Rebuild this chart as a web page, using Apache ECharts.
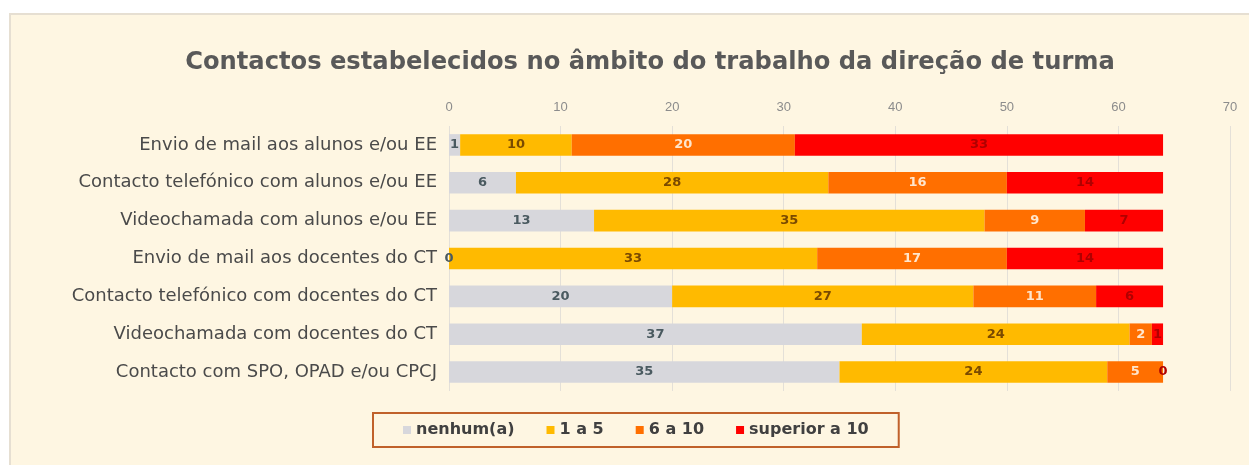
<!DOCTYPE html>
<html>
<head>
<meta charset="utf-8">
<script src="https://cdn.jsdelivr.net/npm/echarts@6/dist/echarts.min.js"></script>
<style>
html,body{margin:0;padding:0;background:#ffffff;width:1249px;height:465px;overflow:hidden;}
#wrap{position:absolute;left:9px;top:13px;width:1240px;height:452px;background:#FEF6E2;border-left:2px solid #E6DFD2;border-top:2px solid #E6DFD2;box-sizing:border-box;}
#chart{position:absolute;left:0;top:0;width:1238px;height:450px;}
</style>
</head>
<body>
<div id="wrap"><div id="chart"></div></div>
<script>
const categories = [
  "Envio de mail aos alunos e/ou EE",
  "Contacto telefónico com alunos e/ou EE",
  "Videochamada com alunos e/ou EE",
  "Envio de mail aos docentes do CT",
  "Contacto telefónico com docentes do CT",
  "Videochamada com docentes do CT",
  "Contacto com SPO, OPAD e/ou CPCJ"
];
const seriesNames = ["nenhum(a)", "1 a 5", "6 a 10", "superior a 10"];
const nenhum = [1, 6, 13, 0, 20, 37, 35];
const umACinco = [10, 28, 35, 33, 27, 24, 24];
const seisADez = [20, 16, 9, 17, 11, 2, 5];
const superior = [33, 14, 7, 14, 6, 1, 0];
const xTicks = [0, 10, 20, 30, 40, 50, 60, 70];

const colors = ["#D7D7DC", "#FFBA00", "#FF6F00", "#FF0000"];
const labelColors = ["#4A5A60", "#7A4A00", "#FFE6CC", "#B00000"];
const values = [nenhum, umACinco, seisADez, superior];

const chart = echarts.init(document.getElementById('chart'));
chart.setOption({
  animation: false,
  title: {
    text: "Contactos estabelecidos no âmbito do trabalho da direção de turma",
    left: 634, top: 31, textAlign: 'center',
    textStyle: {fontFamily: 'DejaVu Sans', fontSize: 24.2, fontWeight: 'bold', color: '#595959'}
  },
  legend: {
    data: seriesNames,
    left: 362, top: 398,
    itemWidth: 8, itemHeight: 8, itemGap: 32,
    icon: 'rect',
    borderColor: '#C0612B', borderWidth: 2, padding: [9, 30, 9, 30],
    textStyle: {fontFamily: 'DejaVu Sans', fontSize: 16, fontWeight: 'bold', color: '#404040'}
  },
  grid: {left: 438, right: 19, top: 111, bottom: 74},
  xAxis: {
    type: 'value', position: 'top', min: 0, max: 70, interval: 10,
    axisLine: {show: false}, axisTick: {show: false},
    axisLabel: {color: '#8C8C8C', fontSize: 13, fontFamily: 'Liberation Sans', margin: 12,
      formatter: v => xTicks.includes(v) ? String(v) : ''},
    splitLine: {lineStyle: {color: '#E4E0D8', width: 1}}
  },
  yAxis: {
    type: 'category', data: categories, inverse: true,
    axisLine: {show: false}, axisTick: {show: false},
    axisLabel: {color: '#4A4A4A', fontSize: 18, fontFamily: 'DejaVu Sans', margin: 12}
  },
  series: seriesNames.map((name, i) => ({
    name, type: 'bar', stack: 'total', barWidth: '57%',
    data: values[i],
    itemStyle: {color: colors[i]},
    label: {show: true, position: 'inside', color: labelColors[i], fontSize: 13, fontWeight: 'bold', fontFamily: 'DejaVu Sans'}
  }))
});
</script>
</body>
</html>
